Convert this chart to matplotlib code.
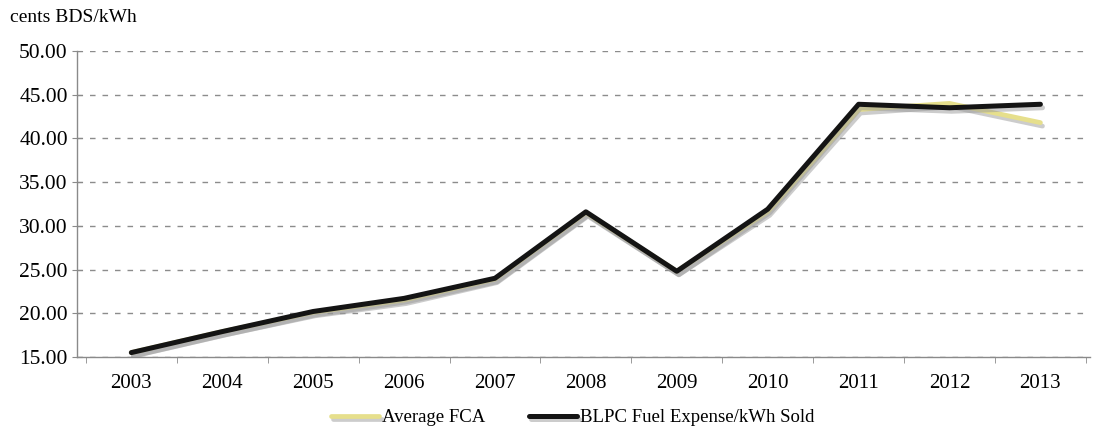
import matplotlib.pyplot as plt
import matplotlib.patheffects as pe
from matplotlib.ticker import FixedLocator, FormatStrFormatter

years = ["2003", "2004", "2005", "2006", "2007", "2008",
         "2009", "2010", "2011", "2012", "2013"]
avg_fca = [15.5, 17.9, 20.1, 21.5, 23.9, 31.5, 24.8, 31.6, 43.3, 44.0, 41.8]
blpc_fuel = [15.5, 17.9, 20.2, 21.7, 24.0, 31.6, 24.8, 31.9, 43.9, 43.5, 43.9]
y_ticks = [15, 20, 25, 30, 35, 40, 45, 50]

plt.rcParams['font.family'] = ['Liberation Serif', 'DejaVu Serif']

fig = plt.figure(figsize=(10.97, 4.28), dpi=100)
ax = fig.add_axes([0.070, 0.166, 0.924, 0.715])

x = list(range(len(years)))
shadow = [pe.SimpleLineShadow(offset=(1.5, -2.5), shadow_color='#9a9a9a', alpha=0.5), pe.Normal()]

ax.plot(x, avg_fca, color='#e6df8c', lw=3.4, solid_capstyle='round',
        label='Average FCA', path_effects=shadow, zorder=3)
ax.plot(x, blpc_fuel, color='#141414', lw=3.6, solid_capstyle='round',
        label='BLPC Fuel Expense/kWh Sold', path_effects=shadow, zorder=4)

ax.set_xlim(-0.6, 10.55)
ax.set_ylim(15, 50)
ax.set_yticks(y_ticks)
ax.yaxis.set_major_formatter(FormatStrFormatter('%.2f'))
ax.set_xticks(x)
ax.set_xticklabels(years)
ax.xaxis.set_minor_locator(FixedLocator([i + 0.5 for i in range(-1, len(years))]))

ax.grid(axis='y', linestyle=(0, (4, 5)), color='#8c8c8c', lw=1.0)
ax.set_axisbelow(True)
for s in ['top', 'right']:
    ax.spines[s].set_visible(False)
for s in ['left', 'bottom']:
    ax.spines[s].set_color('#8a8a8a')
    ax.spines[s].set_linewidth(1.0)

ax.tick_params(axis='y', which='major', direction='inout', length=7, color='#8a8a8a',
               labelsize=15.5, pad=3)
ax.tick_params(axis='x', which='major', length=0, labelsize=15, pad=12)
ax.tick_params(axis='x', which='minor', direction='out', length=4, color='#8a8a8a')

fig.text(0.009, 0.958, 'cents BDS/kWh', fontsize=14, va='center', ha='left')

fig.legend(loc='lower center', bbox_to_anchor=(0.522, -0.035), ncol=2, frameon=False,
           fontsize=13.5, handlelength=2.6, handletextpad=0.15, columnspacing=2.3)

plt.savefig('out.png', dpi=100)
